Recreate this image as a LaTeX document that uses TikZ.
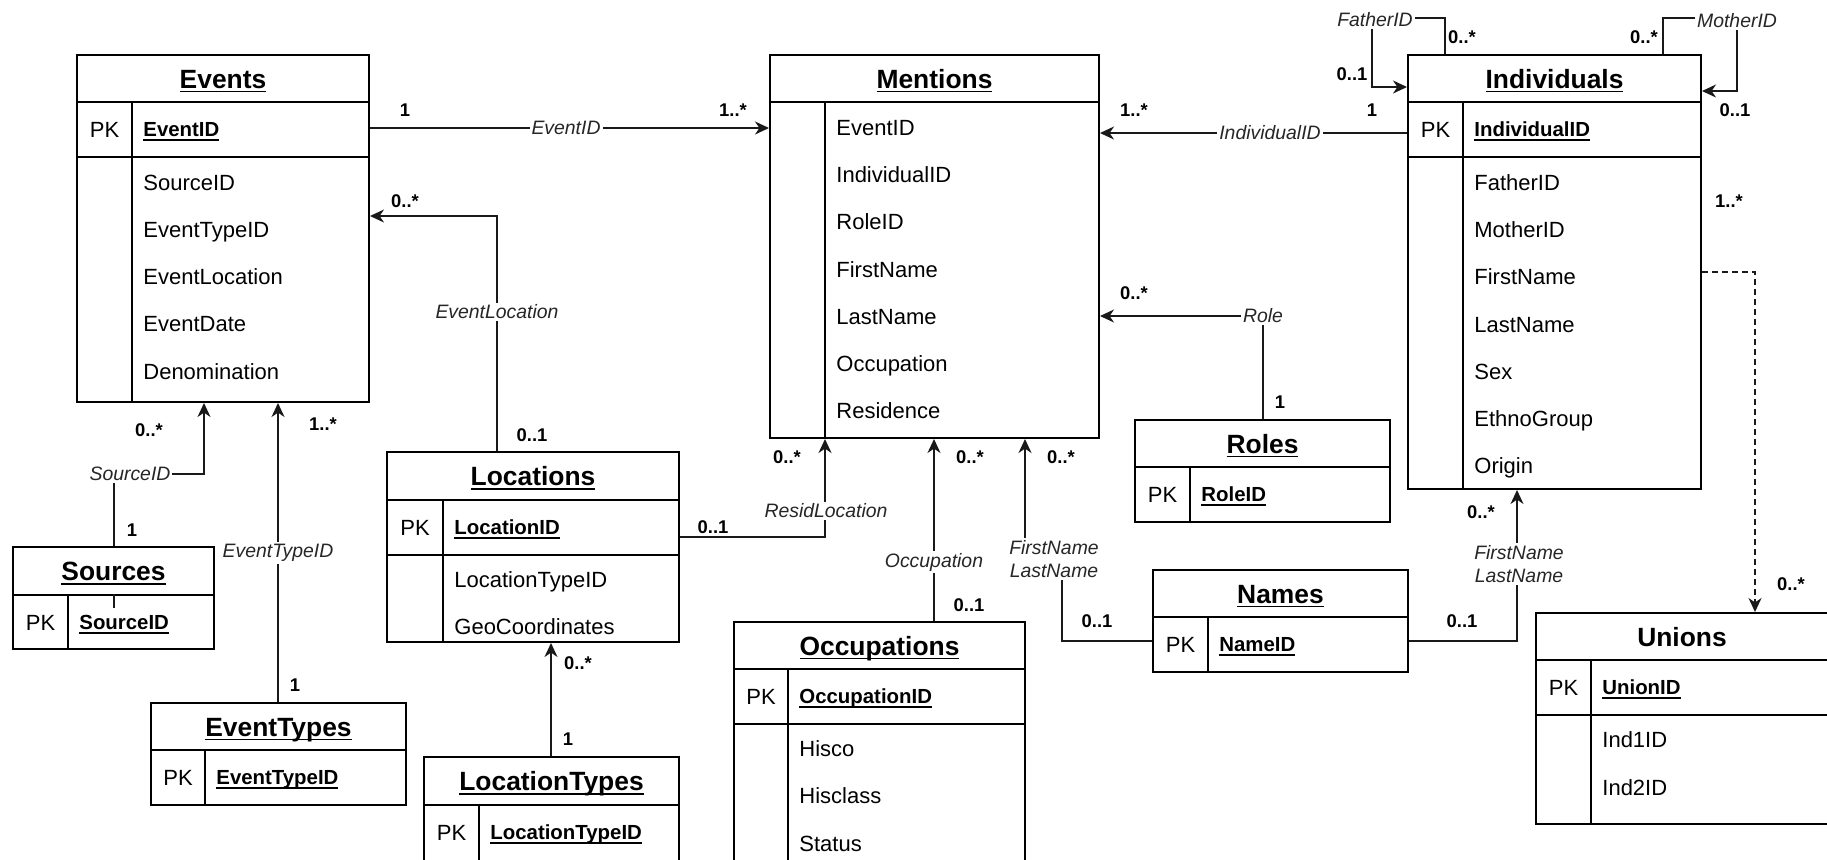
\documentclass[tikz,border=0pt]{standalone}
\usepackage{fontspec}
\setmainfont{Liberation Sans}
\usetikzlibrary{arrows.meta,fit}
\newcommand\ulx[1]{\setbox0=\hbox{#1}\leavevmode\rlap{\rule[-2.1pt]{\wd0}{0.85pt}}\box0}
\tikzset{
  tbl/.style={draw, line width=1pt, fill=white, inner sep=0pt, rectangle},
  tline/.style={line width=1pt},
  ttl/.style={font=\fontsize{13.2}{15}\selectfont\bfseries, inner sep=0pt, anchor=base},
  pkl/.style={font=\fontsize{11}{13}\selectfont, inner sep=0pt, anchor=base},
  keyl/.style={font=\fontsize{10.2}{12}\selectfont\bfseries, anchor=base west, inner sep=0pt},
  attr/.style={font=\fontsize{11}{13}\selectfont, anchor=base west, inner sep=0pt},
  conn/.style={line width=0.8pt, draw=black!90},
  arr/.style={-{Stealth[length=7pt,width=6.5pt,inset=2.2pt]}},
  elab/.style={font=\fontsize{9.7}{11.5}\selectfont\itshape, fill=white, inner sep=1pt, text=black!85, align=center},
  mult/.style={font=\fontsize{9.2}{11}\selectfont\bfseries, inner sep=0pt},
}
% #1 name, #2 x1, #3 y1, #4 x2, #5 y2, #6 header bottom, #7 title
\newcommand\ertable[7]{%
  \node[tbl, fit={(#2,#3) (#4,#5)}] (#1) {};
  \draw[tline] (#2,#6) -- (#4,#6);
  \node[ttl] (#1-title) at ({(#2+#4)/2},{(#3+#6)/2+9.5}) {#7};
}
% #1 name, #2 x1, #3 ytop, #4 x2, #5 ybot, #6 divider, #7 key
\newcommand\pkrow[7]{%
  \node[pkl] (#1-pkl) at ({(#2+#6)/2},{(#3+#5)/2+8}) {PK};
  \node[keyl] (#1-pk) at ({#6+11},{(#3+#5)/2+7.3}) {\ulx{#7}};
}
% #1 name, #2 x, #3 y0, #4 step, #5 list
\newcommand\attrs[5]{%
  \foreach \t [count=\i] in {#5} \node[attr] (#1-\i) at (#2, {#3+(\i-1)*#4+8}) {\t};
}
\begin{document}
\begin{tikzpicture}[x=0.5pt,y=-0.5pt]
\fill[white] (0,0) rectangle (1827,859);
\useasboundingbox (0,0) rectangle (1827,859);

% Events
\ertable{ev}{77}{55}{369}{402}{102}{\ulx{Events}}
\draw[tline] (77,157) -- (369,157);
\draw[tline] (132,102) -- (132,402);
\pkrow{ev}{77}{102}{369}{157}{132}{EventID}
\attrs{ev}{143}{182}{47.25}{SourceID,EventTypeID,EventLocation,EventDate,Denomination}

% Mentions
\ertable{me}{770}{55}{1099}{438}{102}{\ulx{Mentions}}
\draw[tline] (825,102) -- (825,438);
\attrs{me}{836}{127}{47.33}{EventID,IndividualID,RoleID,FirstName,LastName,Occupation,Residence}

% Individuals
\ertable{in}{1408}{55}{1701}{489}{102}{\ulx{Individuals}}
\draw[tline] (1408,157) -- (1701,157);
\draw[tline] (1463,102) -- (1463,489);
\pkrow{in}{1408}{102}{1701}{157}{1463}{IndividualID}
\attrs{in}{1474}{182}{47.33}{FatherID,MotherID,FirstName,LastName,Sex,EthnoGroup,Origin}

% Roles
\ertable{ro}{1135}{420}{1390}{522}{467}{\ulx{Roles}}
\draw[tline] (1190,467) -- (1190,522);
\pkrow{ro}{1135}{467}{1390}{522}{1190}{RoleID}

% Sources
\ertable{so}{13}{547}{214}{649}{595}{\ulx{Sources}}
\draw[tline] (68,595) -- (68,649);
\pkrow{so}{13}{595}{214}{649}{68}{SourceID}

% EventTypes
\ertable{et}{151}{703}{406}{805}{750}{\ulx{EventTypes}}
\draw[tline] (205,750) -- (205,805);
\pkrow{et}{151}{750}{406}{805}{205}{EventTypeID}

% Locations
\ertable{lo}{387}{452}{679}{642}{500}{\ulx{Locations}}
\draw[tline] (387,555) -- (679,555);
\draw[tline] (443,500) -- (443,642);
\pkrow{lo}{387}{500}{679}{555}{443}{LocationID}
\attrs{lo}{454}{579}{47.5}{LocationTypeID,GeoCoordinates}

% LocationTypes
\ertable{lt}{424}{757}{679}{864}{805}{\ulx{LocationTypes}}
\draw[tline] (479,805) -- (479,864);
\pkrow{lt}{424}{805}{679}{860}{479}{LocationTypeID}

% Occupations
\ertable{oc}{734}{622}{1025}{866}{669}{\ulx{Occupations}}
\draw[tline] (734,724) -- (1025,724);
\draw[tline] (788,669) -- (788,866);
\pkrow{oc}{734}{669}{1025}{724}{788}{OccupationID}
\attrs{oc}{799}{748}{47.5}{Hisco,Hisclass,Status}

% Names
\ertable{na}{1153}{570}{1408}{672}{617}{\ulx{Names}}
\draw[tline] (1208,617) -- (1208,672);
\pkrow{na}{1153}{617}{1408}{672}{1208}{NameID}

% Unions
\ertable{un}{1536}{613}{1828}{824}{660}{Unions}
\draw[tline] (1536,715) -- (1828,715);
\draw[tline] (1591,660) -- (1591,824);
\pkrow{un}{1536}{660}{1828}{715}{1591}{UnionID}
\attrs{un}{1602}{739}{48}{Ind1ID,Ind2ID}

% Connectors
\draw[conn,arr] (ev.east |- 0,128) -- (me.west |- 0,128);
\draw[conn,arr] (in.west |- 0,133) -- (me.east |- 0,133);
\draw[conn,arr] (ro.north -| 1263,0) |- (me.east |- 0,316);
\draw[conn,arr] (lo.north -| 497,0) |- (ev.east |- 0,216);
\draw[conn,arr] (so.north -| 114,0) -- (114,474) -| (ev.south -| 204,0);
\draw[conn] (so.north -| 114,0) ++(0,48) -- ++(0,14);
\draw[conn,arr] (et.north -| 278,0) -- (ev.south -| 278,0);
\draw[conn,arr] (lo.east |- 0,537) -| (me.south -| 825,0);
\draw[conn,arr] (lt.north -| 551,0) -- (lo.south -| 551,0);
\draw[conn,arr] (oc.north -| 934,0) -- (me.south -| 934,0);
\draw[conn,arr] (na.west |- 0,641) -- (1062,641) -- (1062,559) -- (1025,559) -- (me.south -| 1025,0);
\draw[conn,arr] (na.east |- 0,641) -| (in.south -| 1517,0);
\draw[conn,arr] (in.north -| 1445,0) -- (1445,18) -- (1372,18) |- (in.west |- 0,87);
\draw[conn,arr] (in.north -| 1663,0) -- (1663,18) -- (1737,18) |- (in.east |- 0,91);
\draw[conn,arr,dash pattern=on 3pt off 2pt] (in.east |- 0,272) -| (un.north -| 1755,0);

% Edge labels
\node[elab] (l-evid) at (566,128) {EventID};
\node[elab] (l-evloc) at (497,312) {EventLocation};
\node[elab] (l-src) at (130,474) {SourceID};
\node[elab] (l-ety) at (278,553) {EventTypeID};
\node[elab] (l-ind) at (1270,133) {IndividualID};
\node[elab] (l-role) at (1263,316) {Role};
\node[elab] (l-res) at (826,511) {ResidLocation};
\node[elab] (l-occ) at (934,562) {Occupation};
\node[elab] (l-nm1) at (1054,559) {FirstName\\LastName};
\node[elab] (l-nm2) at (1519,564) {FirstName\\LastName};
\node[elab] (l-fa) at (1375,20) {FatherID};
\node[elab] (l-mo) at (1737,21) {MotherID};

% Multiplicities
\node[mult] (m1) at (405,110) {1};
\node[mult] (m2) at (733,110) {1..*};
\node[mult] (m3) at (405,201) {0..*};
\node[mult] (m4) at (532,435) {0..1};
\node[mult] (m5) at (149,430) {0..*};
\node[mult] (m6) at (132,530) {1};
\node[mult] (m7) at (323,424) {1..*};
\node[mult] (m8) at (295,685) {1};
\node[mult] (m9) at (1134,110) {1..*};
\node[mult] (m10) at (1372,110) {1};
\node[mult] (m11) at (1134,293) {0..*};
\node[mult] (m12) at (1280,402) {1};
\node[mult] (m13) at (1462,37) {0..*};
\node[mult] (m14) at (1352,74) {0..1};
\node[mult] (m15) at (1644,37) {0..*};
\node[mult] (m16) at (1735,110) {0..1};
\node[mult] (m17) at (1729,201) {1..*};
\node[mult] (m18) at (1791,584) {0..*};
\node[mult] (m19) at (713,527) {0..1};
\node[mult] (m20) at (787,457) {0..*};
\node[mult] (m21) at (969,605) {0..1};
\node[mult] (m22) at (970,457) {0..*};
\node[mult] (m23) at (1097,621) {0..1};
\node[mult] (m24) at (1061,457) {0..*};
\node[mult] (m25) at (1462,621) {0..1};
\node[mult] (m26) at (1481,512) {0..*};
\node[mult] (m27) at (578,663) {0..*};
\node[mult] (m28) at (568,739) {1};
\end{tikzpicture}
\end{document}
